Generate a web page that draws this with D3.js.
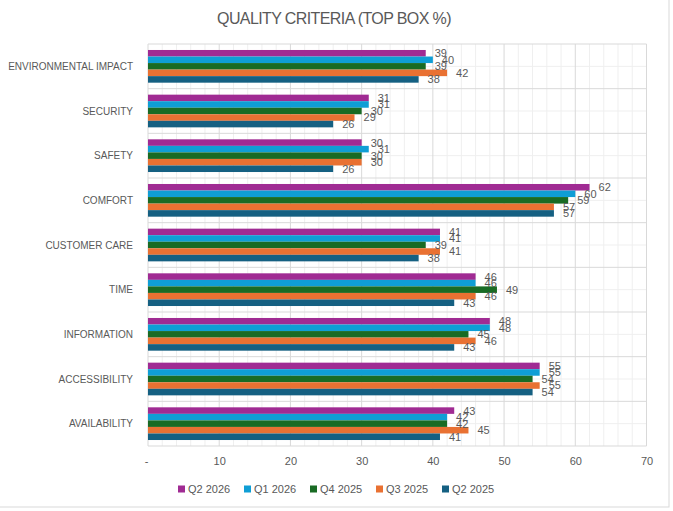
<!DOCTYPE html>
<html><head><meta charset="utf-8">
<script src="https://cdn.jsdelivr.net/npm/d3@7"></script>
<style>body{margin:0;background:#fff}svg{display:block;font-family:"Liberation Sans",Arial,sans-serif}</style>
</head><body><svg id="c" width="673" height="511"></svg>
<script>
const categories = ["ENVIRONMENTAL IMPACT","SECURITY","SAFETY","COMFORT","CUSTOMER CARE","TIME","INFORMATION","ACCESSIBILITY","AVAILABILITY"];
const seriesNames = ["Q2 2026","Q1 2026","Q4 2025","Q3 2025","Q2 2025"];
const seriesColors = ["#A02B93","#0F9ED5","#196B24","#E97132","#156082"];
const q2_2026 = [39,31,30,62,41,46,48,55,43];
const q1_2026 = [40,31,31,60,41,46,48,55,42];
const q4_2025 = [39,30,30,59,39,49,45,54,42];
const q3_2025 = [42,29,30,57,41,46,46,55,45];
const q2_2025 = [38,26,26,57,38,43,43,54,41];
const seriesValues = [q2_2026,q1_2026,q4_2025,q3_2025,q2_2025];
const tickValues = [0,10,20,30,40,50,60,70];
const tickLabels = ["-","10","20","30","40","50","60","70"];
const title = "QUALITY CRITERIA (TOP BOX %)";

const svg = d3.select("#c");
const txt = "#595959";
const L = 148, R = 646.5, T = 44, B = 446;

// outer border
svg.append("rect").attr("x",-1).attr("y",-1).attr("width",670).attr("height",508)
  .attr("fill","#fff").attr("stroke","#d9d9d9").attr("stroke-width",1);

const x = d3.scaleLinear().domain([0,70]).range([L,R]);
const y = d3.scaleBand().domain(categories).range([T,B]).paddingInner(0.268).paddingOuter(0.134);
const yi = d3.scaleBand().domain(seriesNames).range([0,y.bandwidth()]);
const step = y.step();

const g = svg.append("g");
// minor vertical grid
g.selectAll(".mv").data(d3.range(0,71,2).filter(v=>v%10!==0)).join("line")
  .attr("x1",d=>x(d)).attr("x2",d=>x(d)).attr("y1",T).attr("y2",B)
  .attr("stroke","#efefef").attr("stroke-width",1);
// minor horizontal grid (category centres)
g.selectAll(".mh").data(categories).join("line")
  .attr("x1",L).attr("x2",R)
  .attr("y1",d=>y(d)+y.bandwidth()/2).attr("y2",d=>y(d)+y.bandwidth()/2)
  .attr("stroke","#efefef");
// major vertical grid
g.selectAll(".Mv").data(tickValues).join("line")
  .attr("x1",d=>x(d)).attr("x2",d=>x(d)).attr("y1",T).attr("y2",B)
  .attr("stroke","#d9d9d9");
// major horizontal grid (category boundaries)
g.selectAll(".Mh").data(d3.range(categories.length+1)).join("line")
  .attr("x1",L).attr("x2",R)
  .attr("y1",d=>T+d*step).attr("y2",d=>T+d*step)
  .attr("stroke","#d9d9d9");

// bars
seriesNames.forEach((s,si)=>{
  const vals = seriesValues[si];
  svg.append("g").selectAll("rect").data(categories).join("rect")
    .attr("x",x(0)).attr("y",(c)=>y(c)+yi(s))
    .attr("width",(c,i)=>x(vals[i])-x(0)).attr("height",yi.bandwidth())
    .attr("fill",seriesColors[si]);
});
// labels
seriesNames.forEach((s,si)=>{
  const vals = seriesValues[si];
  svg.append("g").selectAll("text").data(categories).join("text")
    .attr("x",(c,i)=>x(vals[i])+9).attr("y",(c)=>y(c)+yi(s)+yi.bandwidth()/2)
    .attr("dy","0.36em").attr("font-size",11).attr("fill",txt)
    .text((c,i)=>vals[i]);
});

// category axis labels
svg.append("g").selectAll("text").data(categories).join("text")
  .attr("x",133).attr("y",d=>y(d)+y.bandwidth()/2).attr("dy","0.36em")
  .attr("text-anchor","end").attr("font-size",10).attr("fill",txt).text(d=>d);

// x-axis tick labels
const xAxis = d3.axisBottom(x).tickValues(tickValues).tickSize(0).tickPadding(0)
  .tickFormat((d,i)=>tickLabels[i]);
const ax = svg.append("g").attr("transform",`translate(0,${B+11})`).call(xAxis);
ax.select(".domain").remove();
ax.selectAll("text").attr("font-size",11).attr("fill",txt).attr("font-family","Liberation Sans, Arial, sans-serif").attr("dy","0.71em");
ax.selectAll(".tick").filter(d=>d===0).select("text").attr("dx",-2);

// title
svg.append("text").attr("x",334).attr("y",24).attr("text-anchor","middle")
  .attr("font-size",16).attr("letter-spacing","-0.6").attr("fill",txt).text(title);

// legend
const lg = svg.append("g");
seriesNames.forEach((s,i)=>{
  const lx = 178 + i*66;
  lg.append("rect").attr("x",lx).attr("y",485.5).attr("width",7).attr("height",7).attr("fill",seriesColors[i]);
  lg.append("text").attr("x",lx+10).attr("y",489).attr("dy","0.36em").attr("font-size",11).attr("fill",txt).text(s);
});
</script></body></html>
